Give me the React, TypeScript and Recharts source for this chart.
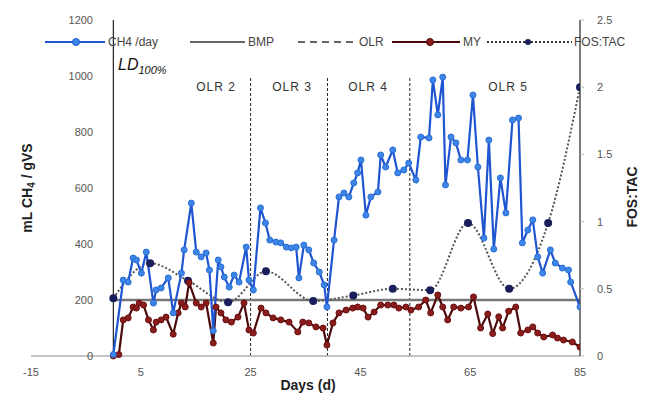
import React from 'react'
import { ComposedChart, Line, XAxis, YAxis, ReferenceLine } from 'recharts'

// CH4 production per day (mL CH4 / gVS)
const ch4Days = [
  0, 1.8, 2.7, 3.6, 4.2, 5.1, 6, 7.3, 7.8, 8.7, 10, 10.9, 12.4, 12.9, 14.2, 15.1, 16, 16.9, 17.5, 18.2,
  19.1, 19.6, 20.2, 21.1, 22, 22.9, 24.2, 24.7, 25.5, 26.8, 27.7, 28.5, 29.6, 30.5, 31.5, 32.4, 33.3, 33.8,
  34.7, 35.6, 36.5, 37.5, 38.4, 38.9, 40.2, 41.1, 42, 42.9, 43.8, 44.5, 45.1, 46, 46.9, 48.2, 48.7, 49.6,
  50.9, 51.8, 52.9, 53.8, 55.1, 56, 57.5, 58.2, 59.1, 60, 60.5, 61.5, 62.4, 63.3, 64.5, 65.5, 66.4, 67.5,
  68.4, 69.3, 70.5, 71.5, 72.7, 73.8, 74.5, 75.5, 76.4, 77.3, 78.2, 79.6, 80.5, 81.8, 82.9, 83.3, 85,
]
const ch4Values = [
  5, 271, 264, 350, 343, 296, 371, 189, 236, 243, 279, 154, 296, 379, 546, 371, 354, 368, 307, 90,
  343, 318, 282, 246, 289, 264, 389, 271, 236, 529, 475, 414, 407, 404, 389, 386, 389, 279,
  396, 379, 332, 300, 254, 175, 414, 568, 582, 568, 618, 654, 700, 503, 568, 586, 718, 675,
  736, 654, 664, 689, 629, 782, 779, 986, 861, 996, 611, 782, 761, 700, 700, 932, 675, 421,
  771, 382, 636, 511, 843, 850, 404, 450, 486, 354, 296, 379, 332, 314, 307, 264, 175,
]

// methane yield
const myDays = [
  0, 1, 1.8, 2.7, 3.6, 4.2, 4.7, 5.5, 6.4, 7.3, 7.8, 8.7, 9.6, 10.9, 11.8, 12.4, 13.1, 13.8, 15.1, 16,
  16.9, 18.2, 18.7, 19.6, 20.5, 21.5, 22.7, 23.8, 24.7, 25.5, 26.9, 27.8, 29.1, 30.5, 32, 33.6, 34.5, 35.6,
  36.9, 38.2, 38.9, 40, 41.1, 42.4, 43.6, 44.5, 45.5, 46.4, 47.5, 48.7, 50, 51.1, 52, 53.3, 54.2, 55.6,
  56.9, 57.8, 59.1, 60, 60.9, 62, 63.3, 64.7, 65.6, 66.9, 68.2, 69.1, 70.2, 70.9, 72, 73.3, 74.2, 75.5,
  76.4, 77.3, 78.4, 80, 80.9, 82, 83.6, 85,
]
const myValues = [
  0, 5, 129, 136, 175, 171, 189, 182, 129, 93, 121, 129, 139, 78, 154, 189, 175, 262, 189, 175,
  189, 46, 175, 154, 129, 121, 139, 189, 93, 82, 171, 154, 136, 129, 121, 86, 121, 118,
  104, 100, 39, 118, 154, 164, 171, 175, 171, 139, 157, 182, 182, 182, 171, 175, 164, 175,
  200, 154, 218, 175, 129, 175, 171, 175, 211, 100, 150, 80, 140, 100, 160, 175, 82, 93,
  104, 82, 68, 75, 64, 57, 50, 32,
]

// FOS:TAC ratio (right axis)
const fosDays = [0, 6.7, 13.6, 20.9, 27.8, 36.4, 43.7, 50.9, 57.7, 64.6, 72.1, 79.2, 85]
const fosValues = [0.43, 0.69, 0.56, 0.4, 0.63, 0.41, 0.45, 0.5, 0.49, 0.99, 0.5, 0.99, 2.0]

const bmpDays = [0, 85]
const bmpValues = [200, 200]

const olrDays = [25, 39, 54]
const olrTop = 1000

const xTicks = [-15, 5, 25, 45, 65, 85]
const leftTicks = [0, 200, 400, 600, 800, 1000, 1200]
const rightTicks = [0, 0.5, 1, 1.5, 2, 2.5]

const toRows = (days: number[], values: number[]) => days.map((d, i) => ({ day: d, v: values[i] }))

const ch4Data = toRows(ch4Days, ch4Values)
const myData = toRows(myDays, myValues)
const fosData = toRows(fosDays, fosValues)
const bmpData = toRows(bmpDays, bmpValues)

const FONT = '"Liberation Sans", Arial, sans-serif'
const BLUE = '#1f55d0'
const BLUE_DOT = '#3d86e8'
const RED = '#4d0a0a'
const RED_DOT = '#8a1c1c'
const NAVY = '#1a1f5c'

function LeftTick(props: any) {
  const { x, y, payload } = props
  return (
    <text x={x + 62} y={y} dy={4} textAnchor="end" fontSize={11} fill="#555" fontFamily={FONT}>
      {payload.value}
    </text>
  )
}

function Overlay() {
  const ly = 42
  return (
    <svg
      width={652}
      height={394}
      style={{ position: 'absolute', left: 0, top: 0, pointerEvents: 'none' }}
      fontFamily={FONT}
    >
      {/* legend */}
      <line x1={45} y1={ly} x2={105} y2={ly} stroke={BLUE} strokeWidth={2} />
      <circle cx={76} cy={ly} r={3.5} fill={BLUE_DOT} stroke={BLUE} />
      <text x={108} y={ly + 4} fontSize={12} fill="#444">CH4 /day</text>
      <line x1={190} y1={ly} x2={245} y2={ly} stroke="#333" strokeWidth={1.5} />
      <text x={248} y={ly + 4} fontSize={12} fill="#444">BMP</text>
      <line x1={298} y1={ly} x2={355} y2={ly} stroke="#333" strokeWidth={1.5} strokeDasharray="7 5" />
      <text x={359} y={ly + 4} fontSize={12} fill="#444">OLR</text>
      <line x1={392} y1={ly} x2={460} y2={ly} stroke={RED} strokeWidth={2} />
      <circle cx={430} cy={ly} r={3.5} fill={RED_DOT} stroke={RED} />
      <text x={463} y={ly + 4} fontSize={12} fill="#444">MY</text>
      <line x1={487} y1={ly} x2={572} y2={ly} stroke="#333" strokeWidth={2} strokeDasharray="2 2" />
      <circle cx={528} cy={ly} r={3} fill={NAVY} />
      <text x={574} y={ly + 4} fontSize={12} fill="#444">FOS:TAC</text>

      {/* annotations */}
      <text x={118} y={70} fontSize={16} fontStyle="italic" fill="#111">
        LD<tspan fontSize={11} dy={4}>100%</tspan>
      </text>
      <text x={216} y={91} fontSize={12} fill="#333" textAnchor="middle" letterSpacing={1}>OLR 2</text>
      <text x={292} y={91} fontSize={12} fill="#333" textAnchor="middle" letterSpacing={1}>OLR 3</text>
      <text x={368} y={91} fontSize={12} fill="#333" textAnchor="middle" letterSpacing={1}>OLR 4</text>
      <text x={508} y={91} fontSize={12} fill="#333" textAnchor="middle" letterSpacing={1}>OLR 5</text>

      {/* axis titles */}
      <text
        transform="translate(32,188) rotate(-90)"
        textAnchor="middle"
        fontSize={14}
        fontWeight="bold"
        fill="#222"
      >
        mL CH<tspan fontSize={10} dy={3}>4</tspan>
        <tspan dy={-3}> / gVS</tspan>
      </text>
      <text
        transform="translate(637,197) rotate(-90)"
        textAnchor="middle"
        fontSize={14}
        fontWeight="bold"
        fill="#222"
      >
        FOS:TAC
      </text>
      <text x={308} y={390} textAnchor="middle" fontSize={14} fontWeight="bold" fill="#222">
        Days (d)
      </text>
    </svg>
  )
}

export default function App() {
  return (
    <div style={{ position: 'absolute', left: 0, top: 0, width: 652, height: 394, background: '#fff' }}>
      <ComposedChart width={652} height={394} margin={{ top: 20, right: 32, left: 30, bottom: 8 }}>
        <XAxis
          dataKey="day"
          type="number"
          domain={[-15, 85]}
          ticks={xTicks}
          allowDataOverflow
          axisLine={{ stroke: '#b0b0b0', strokeWidth: 1.5 }}
          tickLine={false}
          tickSize={0}
          tickMargin={12}
          height={30}
          tick={{ fontSize: 11, fill: '#555', fontFamily: FONT }}
        />
        <YAxis
          yAxisId="left"
          domain={[0, 1200]}
          ticks={leftTicks}
          width={1}
          axisLine={false}
          tickLine={false}
          tickSize={0}
          tickMargin={0}
          tick={<LeftTick />}
        />
        <YAxis
          yAxisId="right"
          orientation="right"
          domain={[0, 2.5]}
          ticks={rightTicks}
          width={40}
          axisLine={{ stroke: '#222', strokeWidth: 1.2 }}
          tickLine={{ stroke: '#bbb' }}
          tickSize={4}
          tickMargin={13}
          tick={{ fontSize: 11, fill: '#555', fontFamily: FONT, textAnchor: 'start' }}
        />

        <ReferenceLine yAxisId="left" x={0} stroke="#222" strokeWidth={1.2} />
        {olrDays.map((d) => (
          <ReferenceLine
            key={d}
            yAxisId="left"
            segment={[{ x: d, y: 0 }, { x: d, y: olrTop }]}
            stroke="#222"
            strokeDasharray="3 2"
            strokeWidth={1}
          />
        ))}

        <Line
          data={bmpData}
          yAxisId="left"
          dataKey="v"
          stroke="#777"
          strokeWidth={2.5}
          dot={false}
          isAnimationActive={false}
        />
        <Line
          data={fosData}
          yAxisId="right"
          dataKey="v"
          type="monotone"
          stroke="#555"
          strokeWidth={2}
          strokeDasharray="2 2"
          dot={{ r: 3, fill: NAVY, stroke: NAVY, strokeDasharray: '' }}
          isAnimationActive={false}
        />
        <Line
          data={myData}
          yAxisId="left"
          dataKey="v"
          stroke={RED}
          strokeWidth={2.2}
          dot={{ r: 3, fill: RED_DOT, stroke: '#6b1010', strokeWidth: 1 }}
          isAnimationActive={false}
        />
        <Line
          data={ch4Data}
          yAxisId="left"
          dataKey="v"
          stroke={BLUE}
          strokeWidth={2.2}
          dot={{ r: 3, fill: BLUE_DOT, stroke: '#2a6fd6', strokeWidth: 1 }}
          isAnimationActive={false}
        />
      </ComposedChart>
      <Overlay />
    </div>
  )
}
